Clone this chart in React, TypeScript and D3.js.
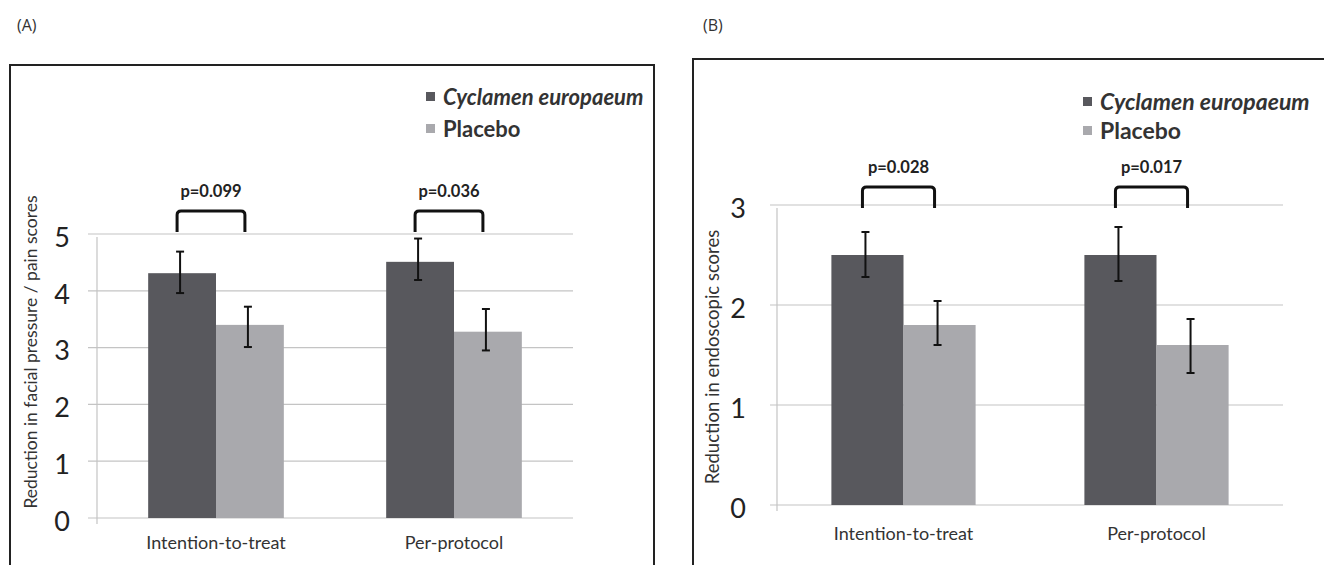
import React, { useEffect, useRef } from "react";
import * as d3 from "d3";

// categories / series
const categories = ["Intention-to-treat", "Per-protocol"];
const seriesNames = ["Cyclamen europaeum", "Placebo"];

// (A) facial pressure / pain scores
const facialCyclamen = [4.31, 4.51];
const facialCyclamenLow = [3.96, 4.19];
const facialCyclamenHigh = [4.69, 4.92];
const facialPlacebo = [3.4, 3.28];
const facialPlaceboLow = [3.01, 2.95];
const facialPlaceboHigh = [3.72, 3.68];
const facialPValues = ["p=0.099", "p=0.036"];
const facialTicks = [0, 1, 2, 3, 4, 5];

// (B) endoscopic scores
const endoCyclamen = [2.5, 2.5];
const endoCyclamenLow = [2.28, 2.24];
const endoCyclamenHigh = [2.73, 2.78];
const endoPlacebo = [1.8, 1.6];
const endoPlaceboLow = [1.6, 1.32];
const endoPlaceboHigh = [2.04, 1.86];
const endoPValues = ["p=0.028", "p=0.017"];
const endoTicks = [0, 1, 2, 3];

const darkColor = "#58585d",
  lightColor = "#a9a9ad",
  gridColor = "#c4c4c4",
  chartFont = "Lato, 'Open Sans', sans-serif";

function drawPanel(svg, opts) {
  const x = d3
    .scaleBand()
    .domain(categories)
    .range([opts.x0, opts.x1])
    .paddingInner(0.43)
    .paddingOuter(0.215);
  const sub = d3
    .scaleBand()
    .domain(seriesNames)
    .range([0, x.bandwidth()]);
  const y = d3
    .scaleLinear()
    .domain([0, opts.max])
    .range([opts.yBottom, opts.yTop]);

  // panel label and box
  svg
    .append("text")
    .attr("x", opts.labelX)
    .attr("y", 31)
    .text(opts.label)
    .style("font-family", "'Open Sans', sans-serif")
    .style("font-size", "16px")
    .style("fill", "#333");

  svg
    .append("path")
    .attr("d", opts.boxPath)
    .style("fill", "none")
    .style("stroke", "#222")
    .style("stroke-width", "2px");

  // gridlines
  svg
    .append("g")
    .selectAll("line")
    .data(opts.ticks)
    .join("line")
    .attr("x1", opts.gridStart)
    .attr("x2", opts.x1)
    .attr("y1", (d) => y(d))
    .attr("y2", (d) => y(d))
    .style("stroke", gridColor)
    .style("stroke-width", "1.2px");

  // vertical axis line
  svg
    .append("line")
    .attr("x1", opts.x0)
    .attr("x2", opts.x0)
    .attr("y1", y(opts.max) + 3)
    .attr("y2", y(0) + 6)
    .style("stroke", gridColor)
    .style("stroke-width", "1.2px");

  // tick labels
  svg
    .append("g")
    .selectAll("text")
    .data(opts.ticks)
    .join("text")
    .attr("x", opts.tickX)
    .attr("y", (d) => y(d) + 6)
    .attr("dominant-baseline", "middle")
    .attr("text-anchor", "middle")
    .text((d) => d)
    .style("font-family", chartFont)
    .style("font-size", "27px")
    .style("fill", "#222");

  // y title
  svg
    .append("text")
    .attr(
      "transform",
      "translate(" + opts.titleX + "," + opts.titleY + ") rotate(-90)"
    )
    .attr("text-anchor", "middle")
    .attr("dominant-baseline", "middle")
    .text(opts.title)
    .style("font-family", chartFont)
    .style("font-size", opts.titleSize)
    .style("fill", "#333");

  // bars
  const rows = [];
  categories.forEach((c, i) => {
    rows.push({ c, s: seriesNames[0], v: opts.cyc[i], lo: opts.cycLo[i], hi: opts.cycHi[i], color: darkColor });
    rows.push({ c, s: seriesNames[1], v: opts.pla[i], lo: opts.plaLo[i], hi: opts.plaHi[i], color: lightColor });
  });

  svg
    .append("g")
    .selectAll("rect")
    .data(rows)
    .join("rect")
    .attr("x", (d) => x(d.c) + sub(d.s))
    .attr("y", (d) => y(d.v))
    .attr("width", sub.bandwidth())
    .attr("height", (d) => y(0) - y(d.v))
    .style("fill", (d) => d.color);

  // error bars
  const err = svg.append("g").style("stroke", "#111").style("stroke-width", "2px");
  rows.forEach((d) => {
    const cx = x(d.c) + sub(d.s) + sub.bandwidth() / 2 - 2;
    err.append("line").attr("x1", cx).attr("x2", cx).attr("y1", y(d.hi)).attr("y2", y(d.lo));
    err.append("line").attr("x1", cx - 4).attr("x2", cx + 4).attr("y1", y(d.hi)).attr("y2", y(d.hi));
    err.append("line").attr("x1", cx - 4).attr("x2", cx + 4).attr("y1", y(d.lo)).attr("y2", y(d.lo));
  });

  // significance brackets
  categories.forEach((c, i) => {
    const bx0 = x(c) + sub(seriesNames[0]) + sub.bandwidth() / 2 - 5,
      bx1 = x(c) + sub(seriesNames[1]) + sub.bandwidth() / 2 - 5,
      bBottom = y(opts.max) + opts.bracketDrop,
      bTop = bBottom - 21,
      r = 4;
    svg
      .append("path")
      .attr(
        "d",
        `M${bx0},${bBottom} V${bTop + r} Q${bx0},${bTop} ${bx0 + r},${bTop} H${bx1 - r} Q${bx1},${bTop} ${bx1},${bTop + r} V${bBottom}`
      )
      .style("fill", "none")
      .style("stroke", "#111")
      .style("stroke-width", "3px");
    svg
      .append("text")
      .attr("x", (bx0 + bx1) / 2)
      .attr("y", bTop - 14)
      .attr("text-anchor", "middle")
      .text(opts.pValues[i])
      .style("font-family", chartFont)
      .style("font-weight", "bold")
      .style("font-size", "16.5px")
      .style("fill", "#222");
  });

  // category labels
  svg
    .append("g")
    .selectAll("text")
    .data(categories)
    .join("text")
    .attr("x", (d) => x(d) + x.bandwidth() / 2)
    .attr("y", y(0) + opts.catDrop)
    .attr("text-anchor", "middle")
    .text((d) => d)
    .style("font-family", chartFont)
    .style("font-size", "18px")
    .style("fill", "#333");

  // legend
  const legend = svg.append("g");
  seriesNames.forEach((s, i) => {
    const ly = opts.legendY + i * opts.legendGap;
    legend
      .append("rect")
      .attr("x", opts.legendX)
      .attr("y", ly - 13)
      .attr("width", 9)
      .attr("height", 9)
      .style("fill", i === 0 ? darkColor : lightColor);
    legend
      .append("text")
      .attr("x", opts.legendX + 17)
      .attr("y", ly)
      .text(s)
      .style("font-family", chartFont)
      .style("font-style", i === 0 ? "italic" : "normal")
      .style("font-weight", "bold")
      .style("font-size", opts.legendSize)
      .style("fill", "#333");
  });
}

function App() {
  const ref = useRef(null);
  useEffect(() => {
    const root = d3.select(ref.current);
    root.selectAll("*").remove();
    const svg = root
      .append("svg")
      .attr("width", 1324)
      .attr("height", 565)
      .style("position", "absolute")
      .style("left", 0)
      .style("top", 0)
      .style("background", "#fff");

    drawPanel(svg, {
      label: "(A)",
      labelX: 17,
      boxPath: "M10,575 V65 H654 V575",
      x0: 97,
      x1: 573,
      gridStart: 88,
      yBottom: 518,
      yTop: 234,
      max: 5,
      ticks: facialTicks,
      tickX: 62,
      title: "Reduction in facial pressure / pain scores",
      titleX: 33,
      titleY: 352,
      titleSize: "17.5px",
      cyc: facialCyclamen,
      cycLo: facialCyclamenLow,
      cycHi: facialCyclamenHigh,
      pla: facialPlacebo,
      plaLo: facialPlaceboLow,
      plaHi: facialPlaceboHigh,
      pValues: facialPValues,
      bracketDrop: -2,
      catDrop: 31,
      legendX: 426,
      legendY: 105,
      legendGap: 32,
      legendSize: "22px"
    });

    drawPanel(svg, {
      label: "(B)",
      labelX: 703,
      boxPath: "M693,575 V59 H1330",
      x0: 777,
      x1: 1283,
      gridStart: 770,
      yBottom: 505,
      yTop: 205,
      max: 3,
      ticks: endoTicks,
      tickX: 738,
      title: "Reduction in endoscopic scores",
      titleX: 714,
      titleY: 357,
      titleSize: "18.5px",
      cyc: endoCyclamen,
      cycLo: endoCyclamenLow,
      cycHi: endoCyclamenHigh,
      pla: endoPlacebo,
      plaLo: endoPlaceboLow,
      plaHi: endoPlaceboHigh,
      pValues: endoPValues,
      bracketDrop: 3,
      catDrop: 35,
      legendX: 1083,
      legendY: 110,
      legendGap: 29,
      legendSize: "23px"
    });
  }, []);

  return <div ref={ref} />;
}

export default App;
